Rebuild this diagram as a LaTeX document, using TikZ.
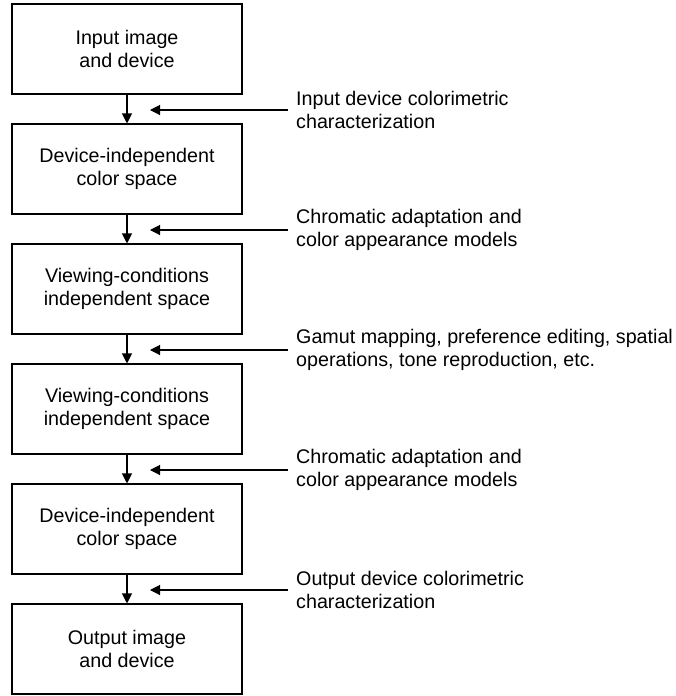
\documentclass[tikz,border=0pt]{standalone}
\usepackage{fontspec}
\setmainfont{Liberation Sans}
\usetikzlibrary{arrows.meta,positioning}
\tikzset{
  stage/.style={draw,line width=1.1pt,minimum width=230pt,minimum height=90pt,inner sep=0pt,align=center,font=\fontsize{19.7}{23.5}\selectfont},
  note/.style={anchor=west,inner sep=0pt,align=left,font=\fontsize{19.7}{23.5}\selectfont},
  flow/.style={line width=1.1pt,-{Triangle[length=10pt,width=10pt]}}
}

\begin{document}
\begin{tikzpicture}[x=1pt,y=-1pt]
    \useasboundingbox (0,0) rectangle (675,696);
	  % stages
	  \node[stage] (s1) at (127,49)  {Input image\\and device};
	  \node[stage] (s2) at (127,169) {Device-independent\\color space};
	  \node[stage] (s3) at (127,289) {Viewing-conditions\\independent space};
	  \node[stage] (s4) at (127,409) {Viewing-conditions\\independent space};
	  \node[stage] (s5) at (127,529) {Device-independent\\color space};
	  \node[stage] (s6) at (127,649) {Output image\\and device};
	  % transforms
	  \node[note] (n1) at (296,110) {Input device colorimetric\\characterization};
	  \node[note] (n2) at (296,230) {Chromatic adaptation and\\color appearance models};
	  \node[note] (n3) at (296,350) {Gamut mapping, preference editing, spatial\\operations, tone reproduction, etc.};
	  \node[note] (n4) at (296,470) {Chromatic adaptation and\\color appearance models};
	  \node[note] (n5) at (296,590) {Output device colorimetric\\characterization};
	  \foreach \k in {1,...,5}{
	    \coordinate (t\k) at (150,-10+120*\k);
	    \draw[flow] ([xshift=-8pt]n\k.west) -- (t\k);
	  }
	  % arrows between stages
	  \draw[flow] (s1) -- (s2);
	  \draw[flow] (s2) -- (s3);
	  \draw[flow] (s3) -- (s4);
	  \draw[flow] (s4) -- (s5);
	  \draw[flow] (s5) -- (s6);
\end{tikzpicture}
\end{document}
